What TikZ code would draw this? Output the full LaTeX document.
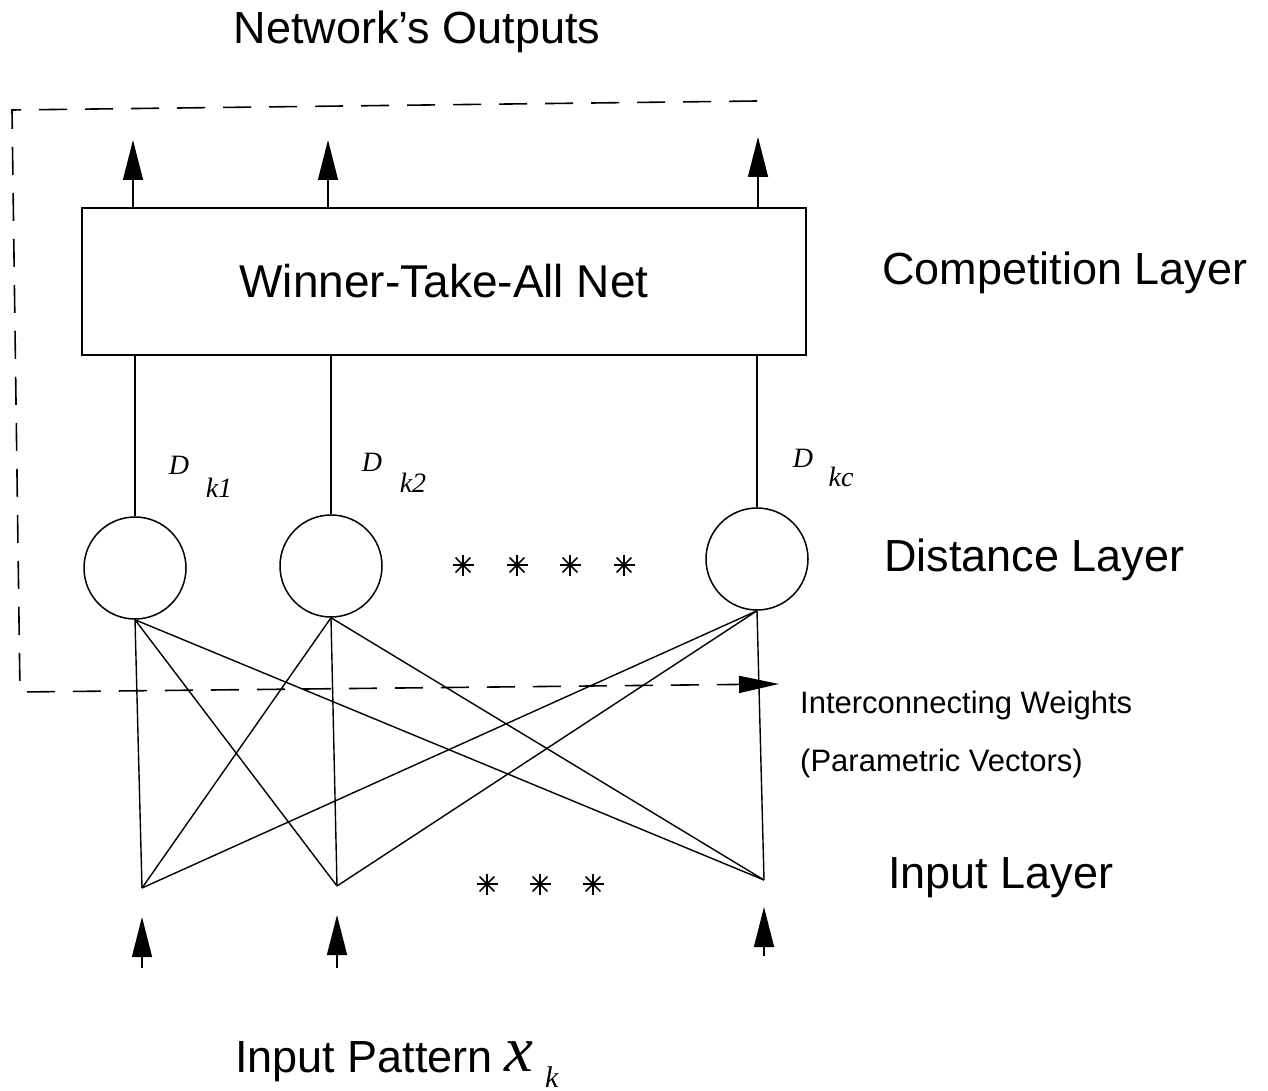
\documentclass[tikz,border=0pt]{standalone}
\usepackage{fontspec}
\setmainfont{Liberation Sans}
\newfontfamily\timesf{Liberation Serif}
\usetikzlibrary{arrows.meta}
\begin{document}
\begin{tikzpicture}[x=1pt,y=-1pt,
  wire/.style={line width=1.4pt},
  arr/.style={wire,-{Triangle[width=20pt,length=40pt]}},
  dashbox/.style={line width=1.6pt,dash pattern=on 28pt off 18pt},
  neuron/.style={circle,draw,line width=1.5pt,minimum size=102pt,inner sep=0pt},
  big/.style={font=\fontsize{45}{54}\selectfont,inner sep=0pt},
  mid/.style={font=\fontsize{31}{38}\selectfont,inner sep=0pt},
  dlab/.style={font=\timesf\itshape\fontsize{28}{30}\selectfont,inner sep=0pt},
  ast/.style={minimum size=22pt,inner sep=0pt,
    path picture={
      \foreach \a in {0,45,90,135}{
        \draw[line width=1.6pt] ([shift={(\a:10.5pt)}]path picture bounding box.center)
          -- ([shift={(\a+180:10.5pt)}]path picture bounding box.center);}}}
]
\useasboundingbox (0,0) rectangle (1268,1091);

% titles and layer labels
\node[big] (netout) at (417,32) {Network's Outputs};
\node[big,anchor=west] (comp) at (882,273) {Competition Layer};
\node[big,anchor=west] (dist) at (884,560) {Distance Layer};
\node[mid,anchor=west] (iw) at (800,705) {Interconnecting Weights};
\node[mid,anchor=west] (pv) at (800,763) {(Parametric Vectors)};
\node[big,anchor=west] (inl) at (888,878) {Input Layer};
\node[big,anchor=base west] (ip) at (235,1072) {Input Pattern};
\node[font=\timesf\itshape\fontsize{65}{65}\selectfont,inner sep=0pt,anchor=base west] (xk) at (504,1071) {x};
\node[font=\timesf\itshape\fontsize{30}{30}\selectfont,inner sep=0pt,anchor=north west] (xsub) at (545,1066) {k};

% competition layer
\node[draw,line width=1.6pt,minimum width=724pt,minimum height=147pt,inner sep=0pt,
      font=\fontsize{46}{54}\selectfont] (wta) at (444,281.5) {Winner-Take-All Net};

% output arrows
\coordinate (o1) at (133,140);
\coordinate (o2) at (328,140);
\coordinate (o3) at (758,137);
\draw[arr] (wta.north -| o1) -- (o1);
\draw[arr] (wta.north -| o2) -- (o2);
\draw[arr] (wta.north -| o3) -- (o3);

% distance layer
\node[neuron] (c1) at (135,568) {};
\node[neuron] (c2) at (331,566) {};
\node[neuron] (c3) at (757,559) {};
\draw[wire] (wta.south -| c1) -- (c1.north);
\draw[wire] (wta.south -| c2) -- (c2.north);
\draw[wire] (wta.south -| c3) -- (c3.north);

\node[dlab] (d1) at (179,465) {D};
\node[dlab] (s1) at (219,488) {k1};
\node[dlab] (d2) at (372,462) {D};
\node[dlab] (s2) at (413,483) {k2};
\node[dlab] (d3) at (803,458) {D};
\node[dlab] (s3) at (841,477) {kc};

\node[ast] (a1) at (463,565) {};
\node[ast] (a2) at (517,565) {};
\node[ast] (a3) at (570,565) {};
\node[ast] (a4) at (624,565) {};

% input layer
\coordinate (i1) at (142,888);
\coordinate (i2) at (337,886);
\coordinate (i3) at (764,880);
\foreach \c in {c1,c2,c3}{
  \foreach \i in {i1,i2,i3}{
    \draw[wire] (\c.south) -- (\i);}}

\node[ast] (b1) at (487,884) {};
\node[ast] (b2) at (540,884) {};
\node[ast] (b3) at (593,884) {};

% input arrows
\coordinate (t1) at (142,968);
\coordinate (h1) at (142,917);
\coordinate (t2) at (337,968);
\coordinate (h2) at (337,915);
\coordinate (t3) at (764,956);
\coordinate (h3) at (764,907);
\draw[arr] (t1) -- (h1);
\draw[arr] (t2) -- (h2);
\draw[arr] (t3) -- (h3);

% dashed boundary with arrow
\coordinate (db1) at (757,101);
\coordinate (db2) at (12,110);
\coordinate (db3) at (20,692);
\coordinate (dbe) at (779,684);
\draw[dashbox,-{Triangle[width=17pt,length=40pt]}] (db1) -- (db2) -- (db3) -- (dbe);
\end{tikzpicture}
\end{document}
